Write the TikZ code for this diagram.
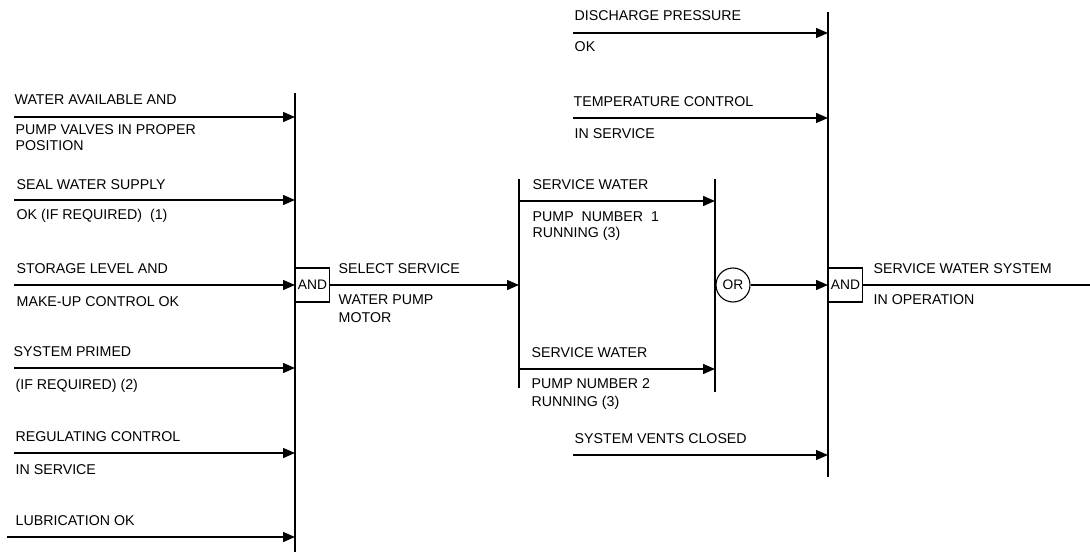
\documentclass[tikz,border=0pt]{standalone}
\usepackage{fontspec}
\setmainfont{Liberation Sans}
\usetikzlibrary{arrows.meta}
\begin{document}
\begin{tikzpicture}[x=1pt,y=-1pt,
  line width=1.4pt,
  sig/.style={-{Triangle[length=12pt,width=10pt]}},
  bus/.style={line width=1.4pt},
  lbl/.style={anchor=base west,inner sep=0pt,font=\fontsize{14.2}{16}\selectfont},
  gate/.style={draw,line width=1.1pt,minimum width=34pt,minimum height=34pt,inner sep=0pt,font=\fontsize{13.8}{16}\selectfont},
  orgate/.style={draw,circle,line width=1.1pt,minimum size=34pt,inner sep=0pt,font=\fontsize{13.8}{16}\selectfont}]
\useasboundingbox (0,0) rectangle (1090,556);
% ---------- left bus ----------
\coordinate (LBt) at (295,93);
\coordinate (LBb) at (295,552);
\draw[bus] (LBt) -- (LBb);
\foreach \n/\y/\xs in {1/117/14,2/200/14,3/285/14,4/368/14,5/453/14,6/537/7}{
  \coordinate (Ls\n) at (\xs,\y);
  \coordinate (Le\n) at (295,\y);
  \draw[sig] (Ls\n) -- (Le\n);
}
\node[lbl] (t1a) at (14,105) {WATER AVAILABLE AND};
\node[lbl] (t1b) at (15,135) {PUMP VALVES IN PROPER};
\node[lbl] (t1c) at (15,151) {POSITION};
\node[lbl] (t2a) at (16,190) {SEAL WATER SUPPLY};
\node[lbl] (t2b) at (16,220) {OK (IF REQUIRED)\ \ (1)};
\node[lbl] (t3a) at (16,273) {STORAGE LEVEL AND};
\node[lbl] (t3b) at (16,306) {MAKE-UP CONTROL OK};
\node[lbl] (t4a) at (13,356) {SYSTEM PRIMED};
\node[lbl] (t4b) at (15,389) {(IF REQUIRED) (2)};
\node[lbl] (t5a) at (15,441) {REGULATING CONTROL};
\node[lbl] (t5b) at (15,474) {IN SERVICE};
\node[lbl] (t6a) at (15,525) {LUBRICATION OK};
% ---------- AND gate 1 ----------
\node[gate,anchor=west] (and1) at (295,285) {AND};
\coordinate (MBt) at (519,179);
\coordinate (MBb) at (519,388);
\coordinate (MBin) at (519,285);
\draw[sig] (and1.east) -- (MBin);
\node[lbl] (s1) at (338,273) {SELECT SERVICE};
\node[lbl] (s2) at (338,305) {WATER PUMP};
\node[lbl] (s3) at (338,322) {MOTOR};
% ---------- middle ----------
\draw[bus] (MBt) -- (MBb);
\coordinate (RBt) at (715,179);
\coordinate (RBb) at (715,392);
\draw[bus] (RBt) -- (RBb);
\coordinate (Ms1) at (519,201);
\coordinate (Me1) at (715,201);
\coordinate (Ms2) at (519,369);
\coordinate (Me2) at (715,369);
\draw[sig] (Ms1) -- (Me1);
\draw[sig] (Ms2) -- (Me2);
\node[lbl] (m1a) at (532,190) {SERVICE WATER};
\node[lbl] (m1b) at (532,222) {PUMP\ \ NUMBER\ \ 1};
\node[lbl] (m1c) at (532,238) {RUNNING (3)};
\node[lbl] (m2a) at (531,357) {SERVICE WATER};
\node[lbl] (m2b) at (531,388) {PUMP NUMBER 2};
\node[lbl] (m2c) at (531,406) {RUNNING (3)};
\node[orgate] (or) at (733,285) {OR};
% ---------- right bus ----------
\coordinate (FBt) at (828,12);
\coordinate (FBb) at (828,477);
\draw[bus] (FBt) -- (FBb);
\coordinate (FBin) at (828,285);
\draw[sig] (or.east) -- (FBin);
\foreach \n/\y in {1/33,2/118,3/455}{
  \coordinate (Rs\n) at (573,\y);
  \coordinate (Re\n) at (828,\y);
  \draw[sig] (Rs\n) -- (Re\n);
}
\node[lbl] (r1a) at (574,21) {DISCHARGE PRESSURE};
\node[lbl] (r1b) at (574,52) {OK};
\node[lbl] (r2a) at (573,107) {TEMPERATURE CONTROL};
\node[lbl] (r2b) at (574,139) {IN SERVICE};
\node[lbl] (r3a) at (574,443) {SYSTEM VENTS CLOSED};
% ---------- AND gate 2 ----------
\node[gate,anchor=west] (and2) at (828,285) {AND};
\coordinate (OUT) at (1090,285);
\draw (and2.east) -- (OUT);
\node[lbl] (o1) at (873,273) {SERVICE WATER SYSTEM};
\node[lbl] (o2) at (873,305) {IN OPERATION};
\end{tikzpicture}
\end{document}
